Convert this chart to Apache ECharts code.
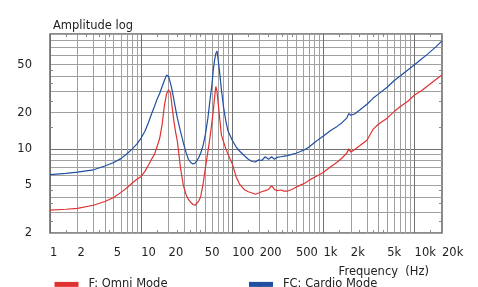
<!DOCTYPE html>
<html style="height: 100%">
<head>
<title>Amplitude log</title>
<script src="https://cdn.jsdelivr.net/npm/echarts@6/dist/echarts.min.js"></script>
</head>
<body style="height: 100%; margin: 0; background: #fff">
<div id="target" style="width: 478px; height: 287px"></div>
<script>
// frequency points (Hz)
const freq = [1, 1.5, 2, 3, 4, 5, 6, 7, 8, 9, 10, 11, 12, 13, 14, 15, 16, 17, 18, 19, 20, 21, 22, 23, 24, 25, 27, 29, 31, 33, 35, 37, 39, 41, 43, 45, 48, 51, 54, 57, 60, 62, 64, 66, 68, 70, 73, 76, 80, 85, 90, 100, 110, 120, 135, 150, 165, 180, 195, 210, 230, 250, 270, 290, 310, 340, 370, 400, 450, 500, 560, 630, 700, 800, 900, 1000, 1200, 1400, 1600, 1800, 1900, 2000, 2200, 2500, 3000, 3500, 4000, 5000, 6000, 7000, 8500, 10000, 12000, 14000, 17000, 20000];

const omni = [3.1, 3.15, 3.2, 3.4, 3.65, 3.95, 4.35, 4.75, 5.2, 5.6, 5.9, 6.5, 7.3, 8.2, 9.0, 10.5, 12.3, 16, 23, 28.5, 31, 29, 21.5, 16.5, 13.5, 11.5, 7.0, 5.0, 4.2, 3.8, 3.6, 3.45, 3.4, 3.5, 3.7, 4.0, 5.2, 7.2, 9.5, 12.5, 17, 21, 27, 33, 30, 24, 17.5, 13, 11.5, 10, 9, 7.5, 5.9, 5.1, 4.6, 4.4, 4.3, 4.2, 4.3, 4.4, 4.5, 4.6, 4.95, 4.6, 4.5, 4.55, 4.45, 4.45, 4.6, 4.8, 5.0, 5.2, 5.5, 5.8, 6.1, 6.4, 7.1, 7.7, 8.4, 9.2, 10.0, 9.4, 9.9, 10.6, 11.8, 14.5, 16, 18, 20.5, 22.5, 25, 28, 30.5, 33.5, 37.5, 41];

const cardio = [6.1, 6.25, 6.4, 6.7, 7.2, 7.7, 8.3, 9.1, 10, 11, 12.3, 14, 16.5, 19.5, 22.5, 26, 29, 33, 37, 41, 40, 35, 30, 25, 21, 18, 14, 11.3, 9.4, 8.2, 7.7, 7.5, 7.6, 8.0, 8.5, 9.2, 10.8, 13.5, 18, 25.6, 35, 46, 55, 62, 65, 55, 42, 31, 22.5, 17, 14, 11.8, 10.4, 9.6, 8.8, 8.2, 7.85, 7.8, 8.1, 8.0, 8.6, 8.2, 8.6, 8.2, 8.5, 8.6, 8.7, 8.8, 9.0, 9.2, 9.5, 9.9, 10.4, 11.3, 12.1, 12.8, 14.2, 15.3, 16.5, 18.0, 19.7, 19.0, 19.5, 21, 23.5, 26.3, 28.5, 32.5, 37, 40.5, 45.5, 50, 56, 61.5, 70, 79];

const xLabels = [1, 2, 5, 10, 20, 50, 100, 200, 500, 1000, 2000, 5000, 10000, 20000];
const yLabels = [2, 5, 10, 20, 50];
const xGrid = [1, 2, 3, 4, 5, 6, 7, 8, 9, 10, 20, 30, 40, 50, 60, 70, 80, 90, 100, 200, 300, 400, 500, 600, 700, 800, 900, 1000, 2000, 3000, 4000, 5000, 6000, 7000, 8000, 9000, 10000];
const yGrid = [2, 3, 4, 5, 6, 7, 8, 9, 10, 20, 30, 40, 50, 60, 70, 80, 90];
const xHalf = [1.5, 2.5, 3.5, 4.5, 15, 25, 35, 45, 150, 250, 350, 450, 1500, 2500, 3500, 4500, 15000];
const yHalf = [2.5, 3.5, 4.5, 15, 25, 35, 45];

const font = 'DejaVu Sans';
const isDecade = v => Math.abs(Math.log10(v) - Math.round(Math.log10(v))) < 1e-9;
const gridColors = vals => vals.map(v => isDecade(v) ? '#707070' : '#a0a0a0');

let chart = echarts.init(document.getElementById('target'));

function fmtX(v) {
    if (v >= 1000) return (v / 1000) + 'k';
    return String(v);
}

let option = {
    animation: false,
    backgroundColor: '#fff',
    title: [
        { text: 'Amplitude log', left: 48, top: 10, textStyle: { fontFamily: font, fontSize: 11.5, fontWeight: 'normal', color: '#222' } },
        { text: 'Frequency  (Hz)', right: 44, top: 256, textStyle: { fontFamily: font, fontSize: 11.5, fontWeight: 'normal', color: '#222' } }
    ],
    legend: {
        left: 52,
        top: 273,
        padding: 0,
        itemWidth: 24,
        itemHeight: 5,
        itemGap: 79,
        lineStyle: { width: 5, cap: 'butt' },
        textStyle: { fontFamily: font, fontSize: 11.5, color: '#222', padding: [0, 0, 0, 5] },
        data: ['F: Omni Mode', 'FC: Cardio Mode']
    },
    grid: {
        left: 50, right: 36, top: 34, bottom: 54,
        show: true, borderColor: '#666', borderWidth: 1.5
    },
    xAxis: [
        {
            type: 'log', min: 1, max: 20000, position: 'bottom',
            axisLine: { show: false },
            axisTick: { inside: true, length: 3, customValues: xHalf, lineStyle: { color: '#888' } },
            axisLabel: { customValues: xLabels, align: 'left', margin: 9, fontFamily: font, fontSize: 11.5, color: '#222', formatter: fmtX },
            splitLine: { show: false }
        },
        {
            type: 'log', min: 1, max: 20000, position: 'top',
            axisLine: { show: false },
            axisTick: { inside: true, length: 3, customValues: xHalf, lineStyle: { color: '#888' } },
            axisLabel: { show: false },
            splitLine: { show: false }
        },
        {
            type: 'log', min: 1, max: 20000, position: 'bottom',
            axisLine: { show: false },
            axisTick: { show: false, customValues: xGrid },
            axisLabel: { show: false },
            splitLine: { show: true, lineStyle: { color: gridColors(xGrid), width: 1 } }
        }
    ],
    yAxis: [
        {
            type: 'log', min: 2, max: 90, position: 'left',
            axisLine: { show: false },
            axisTick: { inside: true, length: 3, customValues: yHalf, lineStyle: { color: '#888' } },
            axisLabel: { customValues: yLabels, margin: 18, fontFamily: font, fontSize: 11.5, color: '#222' },
            splitLine: { show: false }
        },
        {
            type: 'log', min: 2, max: 90, position: 'right',
            axisLine: { show: false },
            axisTick: { inside: true, length: 3, customValues: yHalf, lineStyle: { color: '#888' } },
            axisLabel: { show: false },
            splitLine: { show: false }
        },
        {
            type: 'log', min: 2, max: 90, position: 'left',
            axisLine: { show: false },
            axisTick: { show: false, customValues: yGrid },
            axisLabel: { show: false },
            splitLine: { show: true, lineStyle: { color: gridColors(yGrid), width: 1 } }
        }
    ],
    series: [
        {
            name: 'F: Omni Mode', type: 'line', symbol: 'none',
            xAxisIndex: 0, yAxisIndex: 0,
            itemStyle: { color: '#e03232' },
            lineStyle: { color: '#e03232', width: 1.2 },
            data: freq.map((f, i) => [f, omni[i]])
        },
        {
            name: 'FC: Cardio Mode', type: 'line', symbol: 'none',
            xAxisIndex: 0, yAxisIndex: 0,
            itemStyle: { color: '#1f4fa0' },
            lineStyle: { color: '#1f4fa0', width: 1.2 },
            data: freq.map((f, i) => [f, cardio[i]])
        }
    ]
};

chart.setOption(option);
</script>
</body>
</html>
